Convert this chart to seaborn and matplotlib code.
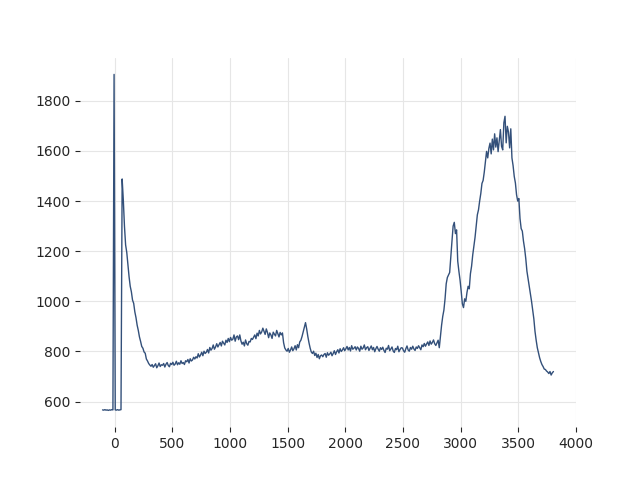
import numpy as np
import pandas as pd
import matplotlib
matplotlib.use("Agg")
import matplotlib.pyplot as plt
import seaborn as sns

# spectrum sampled every 10 units, from -105 to 3805
wavenumber = np.arange(-105, 3806, 10)

intensity = [
    567, 566, 568, 566, 567, 565, 567, 566, 568, 567,
    1905, 567, 566, 568, 566, 567, 568, 1488, 1405, 1300,
    1225, 1195, 1145, 1098, 1060, 1038, 1005, 992, 958, 935,
    905, 884, 858, 840, 820, 813, 798, 793, 770, 762,
    752, 746, 741, 748, 737, 744, 751, 735, 743, 754,
    740, 747, 745, 752, 738, 749, 756, 744, 739, 753,
    748, 757, 745, 750, 761, 747, 755, 749, 763, 752,
    756, 748, 763, 759, 768, 754, 771, 762, 766, 777,
    770, 779, 774, 791, 778, 786, 797, 783, 801, 792,
    797, 808, 794, 816, 805, 812, 826, 809, 818, 831,
    818, 827, 836, 822, 841, 833, 826, 845, 836, 852,
    839, 856, 845, 849, 866, 841, 858, 862, 847, 866,
    842, 829, 837, 822, 846, 831, 825, 840, 838, 852,
    848, 857, 866, 851, 873, 862, 884, 870, 878, 893,
    881, 868, 890, 876, 855, 874, 866, 852, 877, 869,
    862, 884, 871, 858, 876, 866, 874, 835, 814, 806,
    801, 812, 797, 806, 818, 803, 811, 823, 806, 827,
    815, 838, 845, 860, 878, 895, 915, 890, 860, 835,
    814, 798, 792, 801, 784, 793, 776, 788, 771, 783,
    786, 779, 788, 792, 777, 795, 785, 790, 797, 783,
    792, 803, 788, 799, 807, 794, 811, 800, 806, 815,
    803, 811, 820, 806, 816, 802, 823, 809, 813, 819,
    806, 818, 812, 801, 821, 809, 814, 826, 807, 815,
    819, 804, 813, 822, 807, 816, 799, 811, 820, 809,
    801, 815, 808, 817, 804, 796, 813, 809, 824, 803,
    810, 818, 802, 796, 812, 807, 821, 799, 808, 815,
    814, 803, 797, 811, 822, 806, 801, 816, 809, 821,
    810, 804, 818, 812, 823, 815, 807, 826, 819, 832,
    821, 830, 838, 824, 842, 829, 836, 846, 831, 824,
    835, 845, 815, 860, 905, 940, 965, 1010, 1070, 1095,
    1105, 1115, 1180, 1240, 1300, 1315, 1270, 1285, 1160, 1120,
    1085, 1040, 990, 975, 1010, 1000, 1035, 1060, 1050, 1110,
    1140, 1185, 1220, 1255, 1300, 1345, 1365, 1400, 1430, 1470,
    1482, 1515, 1555, 1598, 1572, 1610, 1631, 1588, 1647, 1604,
    1668, 1615, 1652, 1597, 1642, 1685, 1618, 1604, 1712, 1738,
    1632, 1698, 1675, 1612, 1688, 1572, 1541, 1498, 1472, 1425,
    1400, 1410, 1330, 1290, 1280, 1240, 1210, 1170, 1120, 1090,
    1060, 1030, 1000, 965, 930, 880, 845, 815, 795, 775,
    760, 748, 740, 730, 728, 722, 718, 712, 720, 706,
    715, 720,
]

line_color = "#33507a"

df = pd.DataFrame({"wavenumber": wavenumber, "intensity": intensity})

sns.set_style("whitegrid", {"grid.color": "0.9", "xtick.bottom": True,
                            "ytick.left": True})
fig, ax = plt.subplots(figsize=(6.4, 4.8), dpi=100)
sns.lineplot(data=df, x="wavenumber", y="intensity", color=line_color,
             linewidth=1.0, estimator=None, ax=ax)
ax.set_xlabel("")
ax.set_ylabel("")
ax.set_xticks([0, 500, 1000, 1500, 2000, 2500, 3000, 3500, 4000])
sns.despine(left=True, bottom=True)

fig.savefig("out.png", dpi=100)
